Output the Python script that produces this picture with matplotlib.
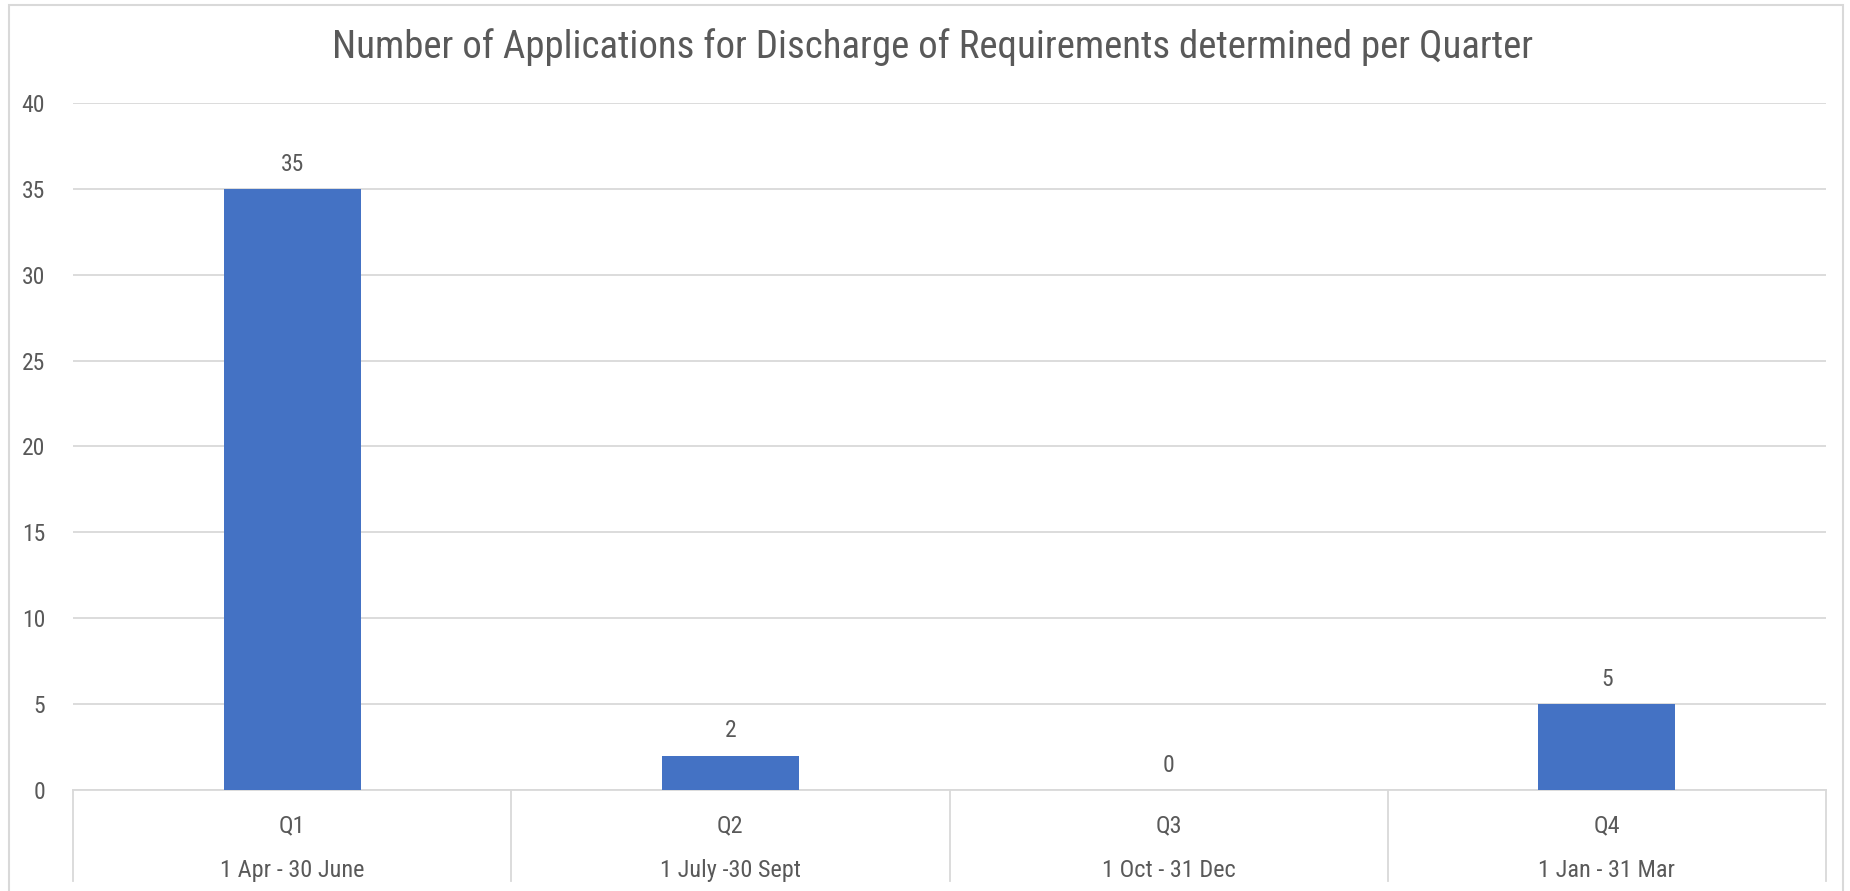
import matplotlib
matplotlib.use("Agg")
import matplotlib.pyplot as plt
from matplotlib import font_manager
from matplotlib.patches import Rectangle

quarters = ["Q1", "Q2", "Q3", "Q4"]
periods = ["1 Apr - 30 June", "1 July -30 Sept", "1 Oct - 31 Dec", "1 Jan - 31 Mar"]
counts = [35, 2, 0, 5]
y_ticks = [0, 5, 10, 15, 20, 25, 30, 35, 40]

TITLE = "Number of Applications for Discharge of Requirements determined per Quarter"
BAR = "#4472C4"
TEXT = "#595959"
GRID = "#D9D9D9"

# prefer a narrow face, like the original's condensed Excel font
installed = {f.name for f in font_manager.fontManager.ttflist}
family = next((f for f in ["Roboto Condensed", "Liberation Sans Narrow", "Open Sans Condensed"]
               if f in installed), "Liberation Sans")
plt.rcParams["font.family"] = [family, "DejaVu Sans"]

fig = plt.figure(figsize=(18.5, 8.91), dpi=100)
ax = fig.add_axes([73 / 1850, 101 / 891, 1753 / 1850, 687 / 891])

x = range(len(counts))
ax.bar(x, counts, width=0.313, color=BAR, zorder=3)
for xi, v in zip(x, counts):
    ax.annotate(str(v), (xi, v), xytext=(0, 9.5), textcoords="offset points",
                ha="center", va="bottom", fontsize=17, color=TEXT)

ax.set_xlim(-0.5, len(counts) - 0.5)
ax.set_ylim(0, 40)
ax.set_yticks(y_ticks)
ax.tick_params(axis="y", length=0, labelsize=17, labelcolor=TEXT, pad=20)
ax.set_xticks([])
ax.grid(axis="y", color=GRID, linewidth=1.3, zorder=0)
for s in ax.spines.values():
    s.set_visible(False)

# category table under the axis
tr = ax.get_xaxis_transform()
ax.plot([-0.5, len(counts) - 0.5], [0, 0], transform=tr, color=GRID, lw=1.3, clip_on=False)
for b in range(len(counts) + 1):
    ax.plot([b - 0.5, b - 0.5], [0, -0.133], transform=tr, color=GRID, lw=1.3, clip_on=False)
for xi, (q, p) in enumerate(zip(quarters, periods)):
    ax.text(xi, -0.052, q, transform=tr, ha="center", va="center", fontsize=17.5, color=TEXT)
    ax.text(xi, -0.117, p, transform=tr, ha="center", va="center", fontsize=17.5, color=TEXT)

fig.text(0.504, 0.947, TITLE, ha="center", va="center", fontsize=28, color=TEXT)

# chart border
fig.patches.append(Rectangle((9 / 1850, -0.1), 1834 / 1850, 1.1 - 5 / 891,
                             transform=fig.transFigure, fill=False,
                             edgecolor=GRID, lw=1.5))

fig.savefig("out.png", dpi=100)
